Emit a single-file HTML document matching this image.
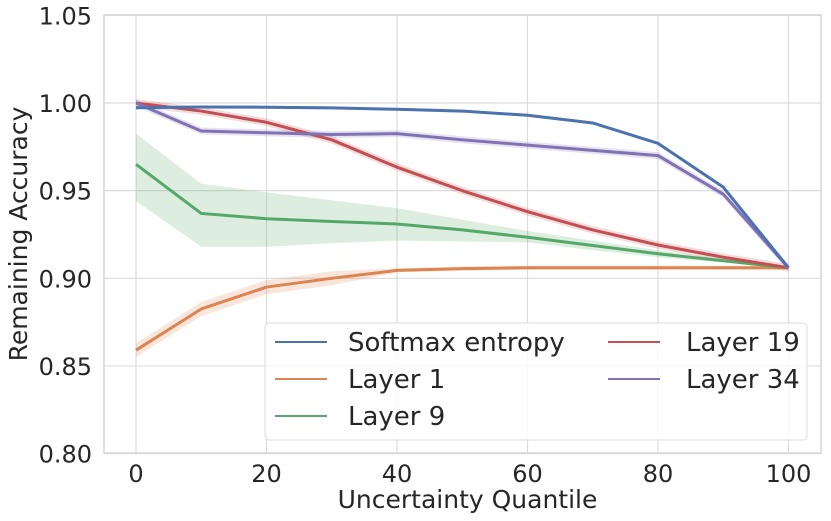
<!DOCTYPE html>
<html><head><meta charset="utf-8"><style>
body{margin:0;background:#fff;}
svg text{font-family:"DejaVu Sans","Liberation Sans",sans-serif;fill:#262626;}
</style></head><body>
<svg id="chart" width="831" height="516" xmlns="http://www.w3.org/2000/svg">
<g id="grid"></g>
<g id="bands"></g>
<g id="lines"></g>
<g id="axes"></g>
<g id="legend"></g>
</svg>
<script>
const xs=[0,10,20,30,40,50,60,70,80,90,100];
const softmax=[0.9973,0.9977,0.9976,0.9972,0.9964,0.9954,0.993,0.9886,0.977,0.952,0.906];
const layer1=[0.859,0.8825,0.895,0.900,0.9045,0.9055,0.906,0.906,0.906,0.906,0.906];
const layer9=[0.965,0.937,0.934,0.9324,0.931,0.9276,0.9234,0.9187,0.914,0.910,0.906];
const layer9Hi=[0.9825,0.954,0.949,0.9445,0.940,0.9335,0.927,0.9215,0.916,0.911,0.9065];
const layer9Lo=[0.944,0.918,0.918,0.920,0.9215,0.921,0.9205,0.916,0.912,0.909,0.9055];
const layer19=[1.0,0.9954,0.989,0.979,0.9634,0.950,0.938,0.9276,0.919,0.912,0.906];
const layer34=[1.0,0.984,0.983,0.982,0.9825,0.979,0.976,0.973,0.970,0.948,0.906];
const xTicks=[0,20,40,60,80,100];
const yTicks=[0.80,0.85,0.90,0.95,1.00,1.05];
const names=["Softmax entropy","Layer 1","Layer 9","Layer 19","Layer 34"];
const colors=["#4c72b0","#dd8452","#55a868","#c44e52","#8172b3"];

const L=104,R=821,T=15,B=453;
const X=v=>136+v*6.525;
const Y=v=>103+(1.0-v)*1753;
const NS="http://www.w3.org/2000/svg";
function mk(tag,attrs,parent){const e=document.createElementNS(NS,tag);for(const k in attrs)e.setAttribute(k,attrs[k]);parent.appendChild(e);return e;}
const grid=document.getElementById('grid'),axes=document.getElementById('axes'),bands=document.getElementById('bands'),lines=document.getElementById('lines'),leg=document.getElementById('legend');

xTicks.forEach(t=>{
  const g=mk('line',{x1:X(t),x2:X(t),y1:T,y2:B,stroke:'#dcdcdc','stroke-width':1.2},grid);
  
  
  const tx=mk('text',{x:X(t),y:482,'text-anchor':'middle','font-size':24},axes);
  tx.textContent=t;
  
  
});
yTicks.forEach(t=>{
  const g=mk('line',{x1:L,x2:R,y1:Y(t),y2:Y(t),stroke:'#dcdcdc','stroke-width':1.2},grid);
  
  
  const tx=mk('text',{x:L-12,y:Y(t)+9,'text-anchor':'end','font-size':24},axes);
  tx.textContent=t.toFixed(2);
  
  
});
const frame=mk('rect',{x:L,y:T,width:R-L,height:B-T,fill:'none',stroke:'#d6d6d6','stroke-width':1.5},axes);


const xt=mk('text',{x:(L+R)/2+5,y:508,'text-anchor':'middle','font-size':25},axes);
xt.textContent='Uncertainty Quantile';


const yt=mk('text',{x:0,y:0,'text-anchor':'middle','font-size':25,transform:'translate(27,234) rotate(-90)'},axes);
yt.textContent='Remaining Accuracy';



function band(hi,lo,color,name){
  let d='M'+xs.map((x,i)=>X(x)+','+Y(hi[i])).join('L');
  d+='L'+xs.slice().reverse().map((x,j)=>{const i=xs.length-1-j;return X(x)+','+Y(lo[i]);}).join('L')+'Z';
  const p=mk('path',{d:d,fill:color,'fill-opacity':0.2,stroke:'none'},bands);
  
  
}
const pm=(a,e)=>a.map(v=>v+e);
band(pm(softmax,0.0008),pm(softmax,-0.0008),colors[0],'softmax-band');
band(layer1.map((v,i)=>v+(i<4?0.004:0.0012)),layer1.map((v,i)=>v-(i<4?0.004:0.0012)),colors[1],'layer1-band');
band(layer9Hi,layer9Lo,colors[2],'layer9-band');
band(pm(layer19,0.0022),pm(layer19,-0.0022),colors[3],'layer19-band');
band(pm(layer34,0.002),pm(layer34,-0.002),colors[4],'layer34-band');

function line(vals,color,name){
  const p=mk('polyline',{points:xs.map((x,i)=>X(x)+','+Y(vals[i])).join(' '),fill:'none',stroke:color,'stroke-width':3,'stroke-linejoin':'round'},lines);
  
  
}
line(layer1,colors[1],'layer1-line');
line(layer9,colors[2],'layer9-line');
line(layer19,colors[3],'layer19-line');
line(layer34,colors[4],'layer34-line');
line(softmax,colors[0],'softmax-line');

const box=mk('rect',{x:265,y:323,width:542,height:117,rx:4,fill:'#fff','fill-opacity':0.85,stroke:'#dddddd','stroke-width':1},leg);


const pos=[[275,342],[275,379],[275,416],[608,342],[608,379]];
names.forEach((n,i)=>{
  const [lx,ly]=pos[i];
  const l=mk('line',{x1:lx,x2:lx+52,y1:ly,y2:ly,stroke:colors[i],'stroke-width':2},leg);
  
  
  const t=mk('text',{x:lx+(i<3?73:78),y:ly+9,'font-size':26},leg);
  t.textContent=n;
  
  
});
</script>
</body></html>
